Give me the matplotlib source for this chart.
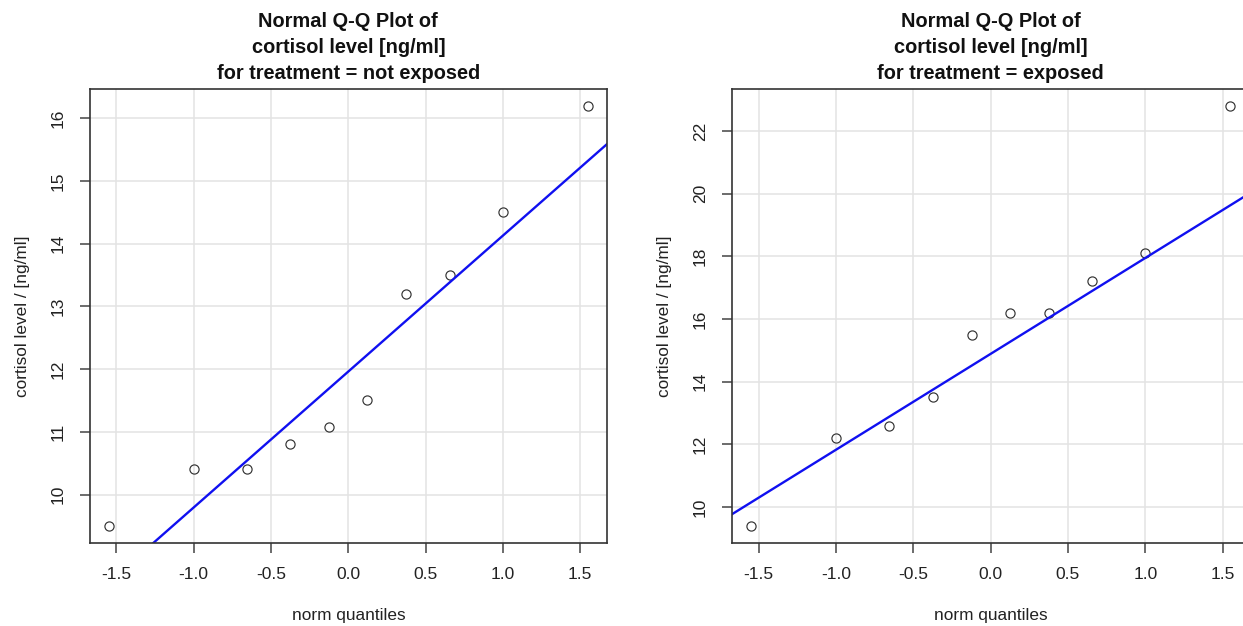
import numpy as np
import matplotlib
matplotlib.use("Agg")
import matplotlib.pyplot as plt
from matplotlib.ticker import MultipleLocator, FormatStrFormatter

plt.rcParams["font.family"] = ["Liberation Sans", "DejaVu Sans"]
plt.rcParams["axes.unicode_minus"] = False

# theoretical normal quantiles (n = 10)
norm_q = [-1.547, -1.000, -0.655, -0.375, -0.122, 0.122, 0.375, 0.655, 1.000, 1.547]
q_quartiles = [-0.6745, 0.6745]

# sorted cortisol levels [ng/ml]
not_exposed = [9.5, 10.4, 10.4, 10.8, 11.07, 11.5, 13.2, 13.5, 14.5, 16.2]
exposed = [9.4, 12.2, 12.6, 13.5, 15.5, 16.2, 16.2, 17.2, 18.1, 22.8]

groups = ["not exposed", "exposed"]
y_steps = [1, 2]

fig = plt.figure(figsize=(12.43, 6.26), dpi=100)
ax_left = fig.add_axes([90 / 1243, 83.3 / 626, 516.7 / 1243, 453.7 / 626])
ax_right = fig.add_axes([732.3 / 1243, 83.3 / 626, 516.7 / 1243, 453.7 / 626])

for ax, values, group, step in zip([ax_left, ax_right], [not_exposed, exposed], groups, y_steps):
    ax.set_axisbelow(True)
    ax.grid(True, color="#e3e3e3", linewidth=1.1)
    ax.plot(norm_q, values, linestyle="none", marker="o", markersize=6.6,
            markerfacecolor="none", markeredgecolor="#333333", markeredgewidth=0.85)
    ax.margins(x=0.04, y=0.04)

    # reference line through the quartiles (like R's qqline)
    y1, y3 = np.percentile(values, [25, 75])
    slope = (y3 - y1) / (q_quartiles[1] - q_quartiles[0])
    intercept = y1 - slope * q_quartiles[0]
    ax.axline((0, intercept), slope=slope, color="#1010f0", linewidth=1.7)

    ax.xaxis.set_major_locator(MultipleLocator(0.5))
    ax.xaxis.set_major_formatter(FormatStrFormatter("%.1f"))
    ax.yaxis.set_major_locator(MultipleLocator(step))
    ax.tick_params(axis="both", length=7, width=1.1, color="#444444",
                   labelsize=12.5, labelcolor="#222222", pad=10.5)
    for lbl in ax.get_yticklabels():
        lbl.set_rotation(90)
        lbl.set_verticalalignment("center")
    for sp in ax.spines.values():
        sp.set_color("#333333")
        sp.set_linewidth(1.2)

    ax.set_xlabel("norm quantiles", fontsize=12.4, color="#222222", labelpad=19)
    ax.set_ylabel("cortisol level / [ng/ml]", fontsize=12.4, color="#222222", labelpad=15)
    ax.set_title("Normal Q-Q Plot of\ncortisol level [ng/ml]\nfor treatment = " + group,
                 fontsize=14.4, fontweight="bold", color="#111111", pad=7.5, linespacing=1.45)

fig.savefig("out.png", dpi=100)
